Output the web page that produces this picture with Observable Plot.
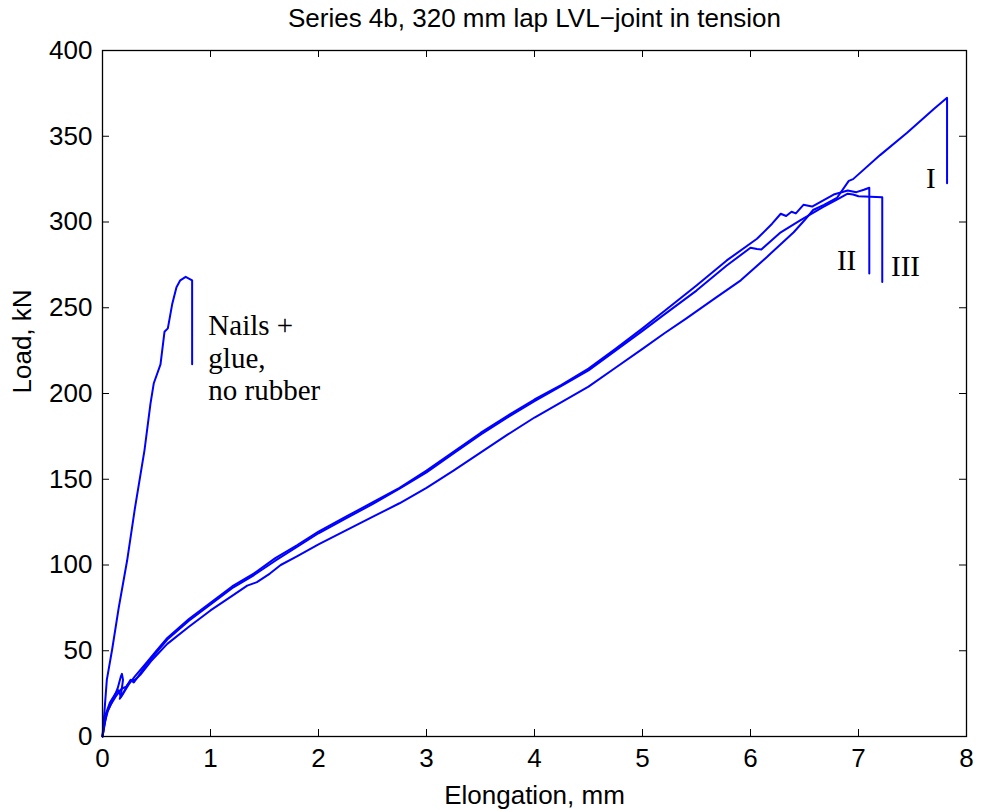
<!DOCTYPE html>
<html>
<head>
<meta charset="utf-8">
<script src="https://cdn.jsdelivr.net/npm/d3@7"></script>
<script src="https://cdn.jsdelivr.net/npm/@observablehq/plot@0.6"></script>
<style>
  html, body { margin: 0; padding: 0; background: #fff; }
  #chart svg { display: block; }
</style>
</head>
<body>
<div id="chart"></div>
<script>
const title = "Series 4b, 320 mm lap LVL\u2212joint in tension";
const xLabel = "Elongation, mm";
const yLabel = "Load, kN";
const xTicks = [0, 1, 2, 3, 4, 5, 6, 7, 8];
const yTicks = [0, 50, 100, 150, 200, 250, 300, 350, 400];

// Nails + glue, no rubber
const nailsGlue = [[0,0],[0.015,12],[0.04,33],[0.09,51],[0.15,75],[0.228,102.6],[0.3,133],[0.389,167],[0.444,194],[0.475,206],[0.537,217],[0.574,236],[0.605,238],[0.645,252],[0.685,262],[0.72,266],[0.77,268],[0.83,266],[0.83,217]];

// Specimen I
const specimenI = [[0,0],[0.02,8],[0.05,15],[0.1,22],[0.14,28],[0.17,35],[0.18,36.5],[0.19,33],[0.17,24],[0.16,22],[0.19,25],[0.23,30],[0.27,33],[0.3,33],[0.35,36],[0.45,44],[0.6,54],[0.8,64],[1.0,73.5],[1.2,82],[1.34,88],[1.43,90],[1.55,95],[1.65,100],[1.8,105],[2.0,112],[2.25,120],[2.5,128],[2.75,136],[3.0,145],[3.25,155],[3.5,165.5],[3.75,176],[4.0,186],[4.25,195],[4.5,204],[4.75,215],[5.0,226],[5.2,235],[5.4,243.5],[5.66,255],[5.91,266],[6.15,279.5],[6.4,294],[6.5,301],[6.58,307],[6.68,310],[6.8,314],[6.91,324],[6.95,325],[7.2,339],[7.45,352],[7.7,366],[7.82,372.4],[7.82,322.6]];

// Specimen II
const specimenII = [[0,0],[0.03,13],[0.07,20],[0.12,25],[0.15,27],[0.17,23],[0.2,26],[0.25,31],[0.3,35],[0.4,42.5],[0.5,50],[0.6,57.5],[0.8,68.5],[1.0,78],[1.2,87.5],[1.4,95],[1.6,104],[1.8,111.5],[2.0,119.5],[2.25,128],[2.5,136.5],[2.75,145],[3.0,155],[3.25,166],[3.5,177],[3.75,187],[4.0,196.5],[4.25,205],[4.5,214.5],[4.75,226],[5.0,238],[5.2,248],[5.5,263],[5.78,277.6],[6.06,290.2],[6.2,299],[6.28,304.8],[6.33,303.5],[6.38,306],[6.42,305],[6.49,310],[6.57,309],[6.67,312.5],[6.77,316],[6.9,318.4],[6.98,317.4],[7.05,318.8],[7.1,320],[7.1,270]];

// Specimen III
const specimenIII = [[0,0],[0.04,14],[0.08,19],[0.13,24],[0.18,28],[0.22,29],[0.26,33],[0.29,31.5],[0.33,35],[0.4,41.5],[0.5,49],[0.6,56.5],[0.8,67.5],[1.0,77],[1.2,86.5],[1.4,94],[1.6,102.5],[1.8,110.5],[2.0,118.5],[2.25,127],[2.5,135.5],[2.75,144.5],[3.0,154],[3.25,165],[3.5,176],[3.75,186],[4.0,195.5],[4.25,204.5],[4.5,213.5],[4.75,225],[5.0,236.5],[5.2,246],[5.5,260],[5.78,274.6],[6.0,285],[6.06,284.3],[6.1,284],[6.28,294],[6.46,301],[6.67,308.7],[6.8,313],[6.9,316.5],[6.95,316],[7.0,315],[7.22,314.5],[7.22,265]];

// Annotation labels (anchored in data units)
const nailsLabel = ["Nails +\nglue,\nno rubber"];
const nailsLabelX = [0.98];
const nailsLabelY = [221];
const specimenLabels = ["I", "II", "III"];
const specimenLabelX = [7.67, 6.89, 7.435];
const specimenLabelY = [325, 277.6, 274];

const series = [nailsGlue, specimenI, specimenII, specimenIII];

const W = 982, H = 810;
const mL = 102, mR = 16, mT = 50, mB = 74;
const innerW = W - mL - mR, innerH = H - mT - mB;
const tick = 7;
const serif = "'Liberation Serif', 'Times New Roman', serif";

const chart = Plot.plot({
  width: W,
  height: H,
  marginLeft: mL,
  marginRight: mR,
  marginTop: mT,
  marginBottom: mB,
  style: {fontFamily: "'Liberation Sans', Arial, Helvetica, sans-serif", fontSize: "26px", color: "black", background: "white"},
  x: {domain: [0, 8]},
  y: {domain: [0, 400]},
  marks: [
    ...series.map(s => Plot.line(s, {x: d => d[0], y: d => d[1], stroke: "#0000ff", strokeWidth: 2, strokeLinejoin: "round"})),
    // inward ticks on all four sides
    Plot.tickX(xTicks, {x: d => d, insetTop: innerH - tick, stroke: "black"}),
    Plot.tickX(xTicks, {x: d => d, insetBottom: innerH - tick, stroke: "black"}),
    Plot.tickY(yTicks, {y: d => d, insetRight: innerW - tick, stroke: "black"}),
    Plot.tickY(yTicks, {y: d => d, insetLeft: innerW - tick, stroke: "black"}),
    Plot.frame({stroke: "black", strokeWidth: 1.3}),
    Plot.axisX({ticks: xTicks, tickSize: 0, tickPadding: 12, label: null, fontSize: 26}),
    Plot.axisY({ticks: yTicks, tickSize: 0, tickPadding: 10, label: null, fontSize: 26}),
    Plot.text([xLabel], {text: d => d, frameAnchor: "bottom", dy: 59, lineAnchor: "middle", fontSize: 26}),
    Plot.text([yLabel], {text: d => d, frameAnchor: "left", dx: -80, rotate: -90, lineAnchor: "middle", fontSize: 26}),
    Plot.text([title], {text: d => d, frameAnchor: "top", dy: -32, lineAnchor: "middle", fontSize: 26}),
    Plot.text(nailsLabel, {x: nailsLabelX, y: nailsLabelY, text: d => d, textAnchor: "start", lineAnchor: "middle", lineHeight: 1.12, fontFamily: serif, fontSize: 29, fill: "black"}),
    Plot.text(specimenLabels, {x: specimenLabelX, y: specimenLabelY, text: d => d, textAnchor: "middle", lineAnchor: "middle", fontFamily: serif, fontSize: 29, fill: "black"})
  ]
});
document.getElementById("chart").appendChild(chart);
</script>
</body>
</html>
